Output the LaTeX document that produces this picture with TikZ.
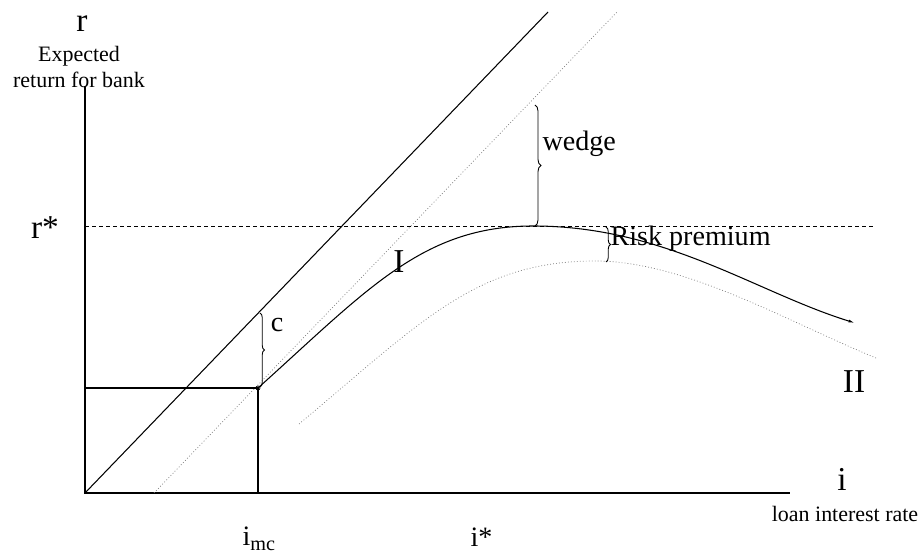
\documentclass[tikz,border=0pt]{standalone}
\usepackage{fontspec}
\setmainfont{Liberation Serif}
\usetikzlibrary{decorations.pathreplacing,arrows.meta}

\tikzset{
  biglabel/.style={font=\fontsize{19}{22}\selectfont, inner sep=0pt},
  midlabel/.style={font=\fontsize{16}{19}\selectfont, inner sep=0pt},
  smalllabel/.style={font=\fontsize{12.5}{15}\selectfont, inner sep=0pt},
  faint/.style={gray, line width=0.4pt, dash pattern=on 0.5pt off 1.2pt},
  bracket/.style={decorate, decoration={brace, amplitude=#1}, line width=0.5pt}
}

\begin{document}
\begin{tikzpicture}[x=0.2mm, y=0.2mm, line width=0.6pt]

% Fix the frame
\useasboundingbox (-85,-61) rectangle (839,493);

% Axes
\coordinate (O) at (0,0);
\coordinate (Ytop) at (0,407);
\coordinate (Xend) at (705,0);
\draw (Ytop) -- (O) -- (Xend);

% Axis labels
\node[biglabel, anchor=base] (rlab) at (-3,461) {r};
\node[smalllabel, anchor=base] (exp1) at (-6,431) {Expected};
\node[smalllabel, anchor=base] (exp2) at (-6,405) {return for bank};
\node[biglabel, anchor=base] (ilab) at (757,2) {i};
\node[smalllabel, anchor=base] (loan) at (760,-29) {loan interest rate};

% 45 degree lines
\coordinate (Stop) at (463,481);
\draw (O) -- (Stop);
\coordinate (Dbot) at (69,0);
\coordinate (Dtop) at (532,481);
\draw[faint] (Dbot) -- (Dtop);

% r* level
\coordinate (Rl) at (0,267);
\coordinate (Rr) at (791,267);
\draw[dash pattern=on 0.8mm off 0.6mm, line width=0.5pt] (Rl) -- (Rr);
\node[biglabel, anchor=base] (rstar) at (-40,254) {r*};

% i_mc box
\coordinate (M) at (173,105);
\coordinate (Ml) at (0,105);
\coordinate (Mb) at (173,0);
\draw (Ml) -- (M) -- (Mb);
\draw[line width=0.4pt] (M) circle (0.4mm);
\node[midlabel, anchor=base west] (imc) at (157,-53)
  {i\raisebox{-1mm}{\fontsize{11.5}{13}\selectfont mc}};
\node[midlabel, anchor=base west] (istar) at (385,-54) {i*};

% Curve I
\coordinate (Ipk) at (448,267);
\coordinate (Iend) at (770,170);
\draw[-{Latex[length=1.3mm,width=0.6mm]}] (M) .. controls (283,204) and (338,267) .. (Ipk)
  .. controls (580,267) and (670,201) .. (Iend);
\node[biglabel, anchor=base] (one) at (314,220) {I};

% Curve II
\coordinate (Ist) at (214,69);
\coordinate (IIpk) at (510,232);
\coordinate (IIend) at (791,135);
\draw[faint] (Ist) .. controls (334,169) and (390,232) .. (IIpk)
  .. controls (600,232) and (701,172) .. (IIend);
\node[biglabel, anchor=base] (two) at (769,100) {II};

% Braces
\draw[bracket=0.9mm] (175,180) -- (175,106);
\node[midlabel, anchor=base] (clab) at (192,161) {c};

\draw[bracket=1.2mm] (450,388) -- (450,267);
\node[midlabel, anchor=base west] (wedge) at (457,342) {wedge};

\draw[bracket=0.9mm] (521,266) -- (521,231);
\node[midlabel, anchor=base west] (risk) at (525,247) {Risk premium};

\end{tikzpicture}
\end{document}
